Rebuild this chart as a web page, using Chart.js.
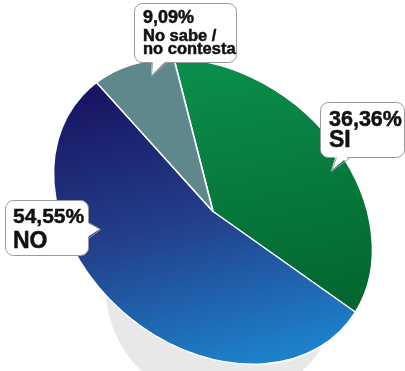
<!DOCTYPE html>
<html>
<head>
<meta charset="utf-8">
<script src="https://cdn.jsdelivr.net/npm/chart.js@4"></script>
<style>
  html, body { margin: 0; padding: 0; background: #fff; }
  #wrap { width: 405px; height: 371px; }
</style>
</head>
<body>
<div id="wrap"><canvas id="pie" width="405" height="371"></canvas></div>
<script>
"use strict";

/* ─── DATA ─── */
const categories = ["SI", "NO", "No sabe / no contesta"];
const shares = [36.36, 54.55, 9.09];
const calloutLines = [["SI"], ["NO"], ["No sabe /", "no contesta"]];

/* ─── LOOK ─── */
const ELL = { cx: 213, cy: 211.5, a: 175, b: 135, tilt: 40.2 * Math.PI / 180 };
const FONT = "Arial, 'Liberation Sans', sans-serif";

// geometry of the circle chart.js draws, before we squash it
function pieGeom(chart) {
  const ca = chart.chartArea;
  const ctrl = chart.getDatasetMeta(0).controller;
  return { x: (ca.left + ca.right) / 2, y: (ca.top + ca.bottom) / 2, r: ctrl.outerRadius || 180 };
}

// display point -> point in the untransformed pie space
function toUser(g, px, py) {
  const dx = px - ELL.cx, dy = py - ELL.cy;
  const c = Math.cos(ELL.tilt), s = Math.sin(ELL.tilt);
  const rx = dx * c + dy * s, ry = -dx * s + dy * c;
  return [g.x + rx * g.r / ELL.a, g.y + ry * g.r / ELL.b];
}

const GRAD = [
  { from: [250, 65], to: [360, 305], stops: [[0, "#0a8c4a"], [1, "#03652f"]] },
  { from: [95, 90], to: [235, 365], stops: [[0, "#181462"], [0.5, "#233f8a"], [1, "#1d80ca"]] },
  null,
];
const FLAT = ["#07823f", "#23408a", "#5f888d"];

function sliceFill(context) {
  const i = context.dataIndex;
  const chart = context.chart;
  if (!GRAD[i] || !chart.chartArea) return FLAT[i];
  const g = pieGeom(chart);
  const p0 = toUser(g, GRAD[i].from[0], GRAD[i].from[1]);
  const p1 = toUser(g, GRAD[i].to[0], GRAD[i].to[1]);
  const grd = chart.ctx.createLinearGradient(p0[0], p0[1], p1[0], p1[1]);
  GRAD[i].stops.forEach(st => grd.addColorStop(st[0], st[1]));
  return grd;
}

/* ─── CALLOUTS ─── */
const CALLOUTS = [
  { box: [320, 102, 84, 55], base: [[336, 157], [350, 157]], tip: [331, 171],
    x: 329, pctY: 126, pctSize: 21.5, lineY: [147], lineSize: 23 },
  { box: [5, 200, 83, 55], base: [[88, 222], [88, 238]], tip: [100, 229],
    x: 13, pctY: 223, pctSize: 21, lineY: [248], lineSize: 23 },
  { box: [134, 3, 102, 59], base: [[152, 62], [167, 62]], tip: [151, 76],
    x: 143, pctY: 23, pctSize: 18, lineY: [41, 54], lineSize: 16.5 },
];

function drawCallout(ctx, c, i) {
  const [bx, by, bw, bh] = c.box;
  ctx.save();
  ctx.fillStyle = "#fff";
  ctx.strokeStyle = "#9a9a9a";
  ctx.lineWidth = 1;
  ctx.beginPath();
  ctx.roundRect(bx + 0.5, by + 0.5, bw, bh, 8);
  ctx.fill();
  ctx.stroke();
  // pointer: fill over the border, then outline two sides
  const [b0, b1] = c.base;
  const inX = b0[0] === b1[0] ? -2 : 0, inY = b0[1] === b1[1] ? -2 : 0;
  ctx.beginPath();
  ctx.moveTo(b0[0] + inX, b0[1] + inY);
  ctx.lineTo(c.tip[0], c.tip[1]);
  ctx.lineTo(b1[0] + inX, b1[1] + inY);
  ctx.closePath();
  ctx.fill();
  ctx.beginPath();
  ctx.moveTo(b0[0] + 0.5, b0[1] + 0.5);
  ctx.lineTo(c.tip[0] + 0.5, c.tip[1] + 0.5);
  ctx.lineTo(b1[0] + 0.5, b1[1] + 0.5);
  ctx.stroke();

  // text, with a hairline stroke to get the heavier look of the original
  ctx.fillStyle = "#111";
  ctx.strokeStyle = "#111";
  ctx.lineWidth = 0.5;
  ctx.textBaseline = "alphabetic";
  ctx.textAlign = "left";
  const pct = shares[i].toFixed(2).replace(".", ",") + "%";
  ctx.font = "700 " + c.pctSize + "px " + FONT;
  ctx.fillText(pct, c.x, c.pctY);
  ctx.strokeText(pct, c.x, c.pctY);
  ctx.font = "700 " + c.lineSize + "px " + FONT;
  calloutLines[i].forEach((t, k) => {
    ctx.fillText(t, c.x, c.lineY[k]);
    ctx.strokeText(t, c.x, c.lineY[k]);
  });
  ctx.restore();
}

const ellipsePie = {
  id: "ellipsePie",
  beforeDatasetsDraw(chart) {
    const ctx = chart.ctx;
    // grey ground shadow
    ctx.save();
    ctx.fillStyle = "#e8e8e8";
    ctx.beginPath();
    ctx.ellipse(222, 290, 116, 112, 0, 0, Math.PI * 2);
    ctx.fill();
    ctx.restore();

    const g = pieGeom(chart);
    ctx.save();
    ctx.translate(ELL.cx, ELL.cy);
    ctx.rotate(ELL.tilt);
    ctx.scale(ELL.a / g.r, ELL.b / g.r);
    ctx.translate(-g.x, -g.y);
  },
  afterDatasetsDraw(chart) {
    chart.ctx.restore();
  },
  afterDraw(chart) {
    CALLOUTS.forEach((c, i) => drawCallout(chart.ctx, c, i));
  },
};

new Chart(document.getElementById("pie"), {
  type: "pie",
  data: {
    labels: categories,
    datasets: [{
      data: shares,
      backgroundColor: sliceFill,
      borderColor: "#ffffff",
      borderWidth: 2,
    }],
  },
  options: {
    responsive: false,
    animation: false,
    rotation: -47.3,
    layout: { padding: 0 },
    plugins: { legend: { display: false }, tooltip: { enabled: false } },
  },
  plugins: [ellipsePie],
});
</script>
</body>
</html>
